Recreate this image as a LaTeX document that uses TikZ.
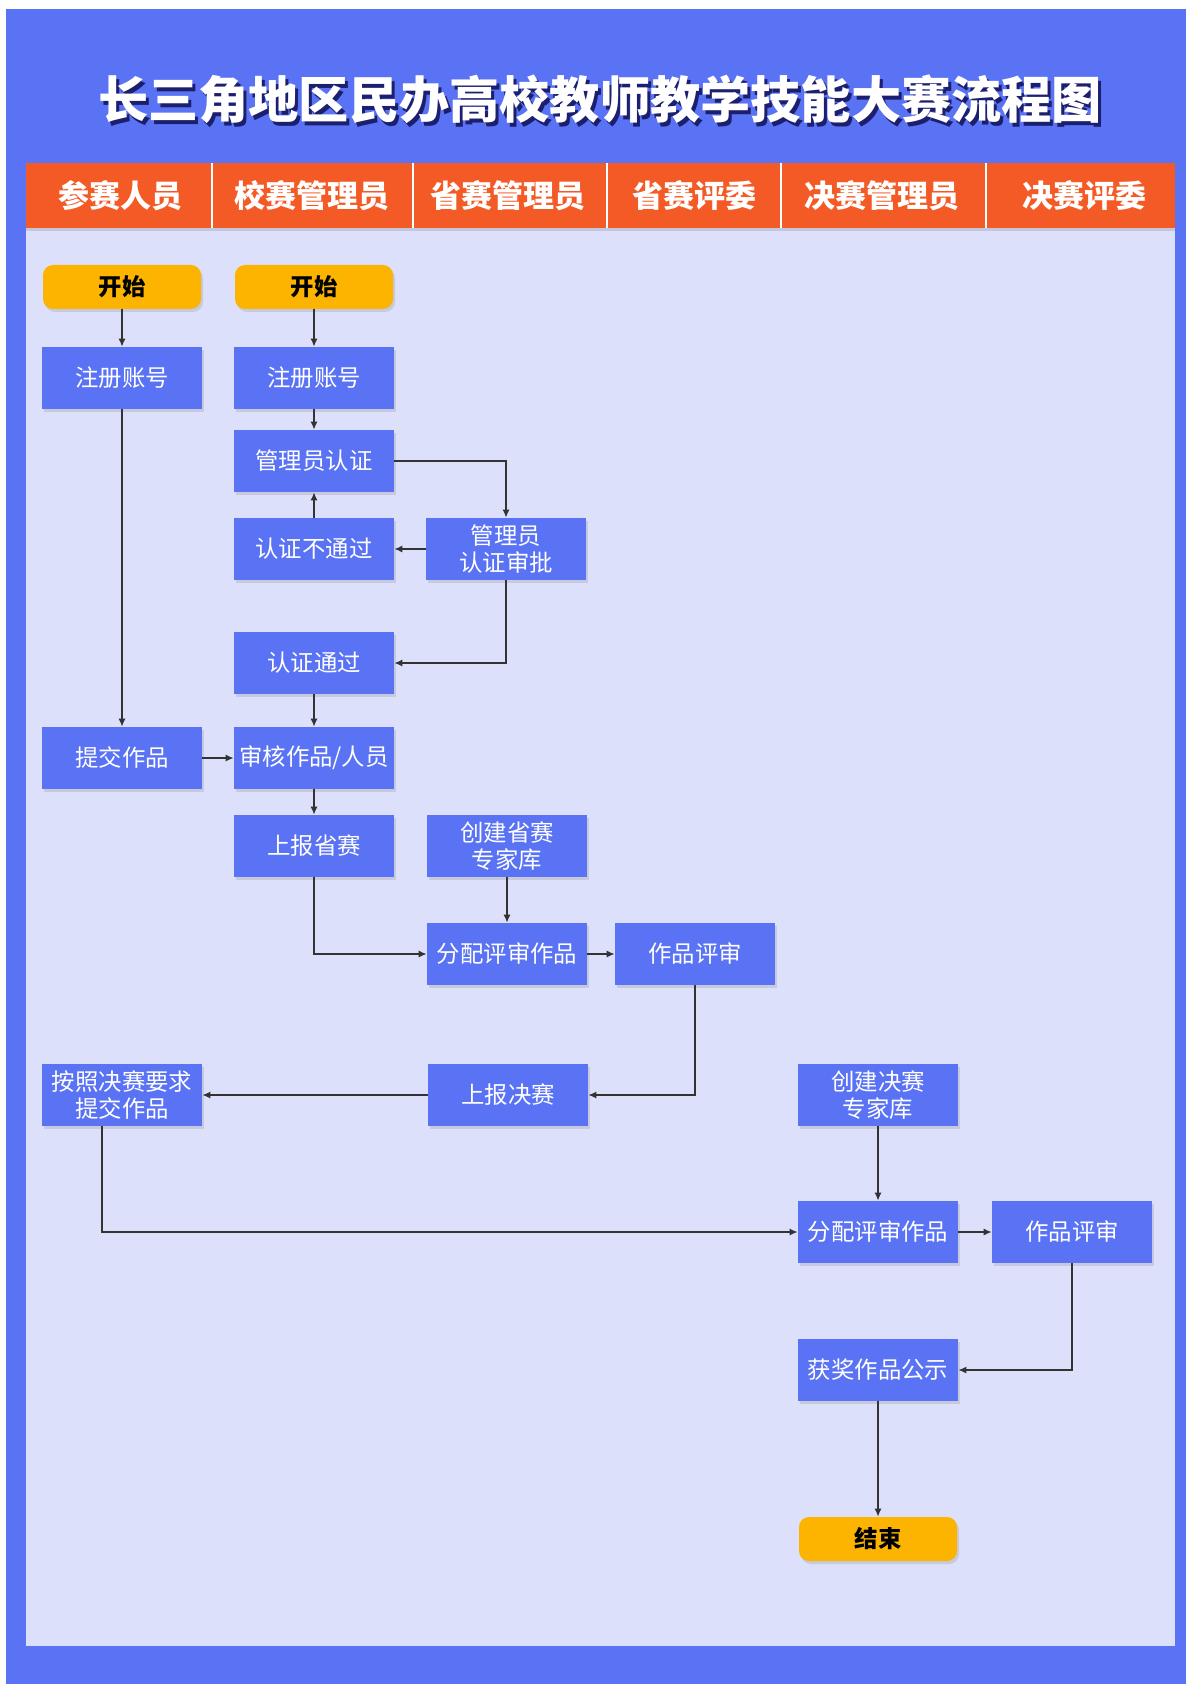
\documentclass[tikz,border=0pt]{standalone}
\usepackage{fontspec}
\newfontfamily\cjk{Noto Sans CJK SC}
\usetikzlibrary{shadows,calc,arrows.meta}
\definecolor{bgblue}{HTML}{5A73F4}
\definecolor{panel}{HTML}{DCE0FA}
\definecolor{hdr}{HTML}{F45A25}
\definecolor{nodeblue}{HTML}{5A73F4}
\definecolor{startc}{HTML}{FDB400}
\definecolor{shad}{HTML}{1C1E6E}
\definecolor{lc}{HTML}{333333}
\begin{document}
\begin{tikzpicture}[x=0.5pt,y=-0.5pt,
  box/.style={fill=nodeblue, minimum width=80pt, minimum height=31pt, inner sep=0pt,
    text=white, font=\cjk\fontsize{11.7}{13.5}\selectfont, align=center,
    drop shadow={shadow xshift=1pt, shadow yshift=-1.5pt, opacity=0.22}},
  term/.style={fill=startc, rounded corners=5pt, minimum width=79pt, minimum height=22pt,
    inner sep=0pt, text=black, font=\cjk\bfseries\fontsize{11.7}{13.5}\selectfont,
    drop shadow={shadow xshift=1pt, shadow yshift=-1.5pt, opacity=0.22}},
  arr/.style={draw=lc, line width=0.6pt, -{Latex[length=4pt,width=3.5pt]}},
  hd/.style={text=white, font=\cjk\bfseries\fontsize{15.5}{18}\selectfont},
  ttl/.style={font=\cjk\bfseries\fontsize{25.1}{30}\selectfont}
]
\useasboundingbox (0,0) rectangle (1186,1684);
\fill[white] (0,0) rectangle (1186,1684);
\fill[bgblue] (6,9) rectangle (1186,1684);
\fill[panel] (26,228) rectangle (1175,1646);
% title with offset shadow
\node[ttl, text=shad] (titleshadow) at (603,103) {长三角地区民办高校教师教学技能大赛流程图};
\node[ttl, text=white] (title) at (600,99) {长三角地区民办高校教师教学技能大赛流程图};
% header
\fill[hdr, drop shadow={shadow xshift=0pt, shadow yshift=-1.5pt, opacity=0.25}] (26,163) rectangle (1175,228);
\foreach \xx in {212,413,607,781,986} {\draw[white, line width=0.6pt] (\xx,163) -- (\xx,228);}
\node[hd] (h1) at (120,196) {参赛人员};
\node[hd] (h2) at (312,196) {校赛管理员};
\node[hd] (h3) at (508,196) {省赛管理员};
\node[hd] (h4) at (694,196) {省赛评委};
\node[hd] (h5) at (882,196) {决赛管理员};
\node[hd] (h6) at (1084,196) {决赛评委};
% nodes
\node[term] (s1) at (122,287) {开始};
\node[term] (s2) at (314,287) {开始};
\node[box] (r1) at (122,378) {注册账号};
\node[box] (r2) at (314,378) {注册账号};
\node[box] (auth) at (314,461) {管理员认证};
\node[box] (fail) at (314,549) {认证不通过};
\node[box] (appr) at (506,549) {管理员\\认证审批};
\node[box] (pass) at (314,663) {认证通过};
\node[box] (sub) at (122,758) {提交作品};
\node[box] (rev) at (314,758) {审核作品/人员};
\node[box] (sb) at (314,846) {上报省赛};
\node[box] (pe) at (507,846) {创建省赛\\专家库};
\node[box] (pa) at (507,954) {分配评审作品};
\node[box] (pr) at (695,954) {作品评审};
\node[box] (ajs) at (122,1095) {按照决赛要求\\提交作品};
\node[box] (fb) at (508,1095) {上报决赛};
\node[box] (fe) at (878,1095) {创建决赛\\专家库};
\node[box] (fa) at (878,1232) {分配评审作品};
\node[box] (fr) at (1072,1232) {作品评审};
\node[box] (aw) at (878,1370) {获奖作品公示};
\node[term] (en) at (878,1539) {结束};
% connectors
\draw[arr] (s1) -- (r1);
\draw[arr] (s2) -- (r2);
\draw[arr] (r1) -- (sub);
\draw[arr] (r2) -- (auth);
\draw[arr] (auth.east) -| (appr.north);
\draw[arr] (appr.west) -- (fail.east);
\draw[arr] (fail.north) -- (auth.south);
\draw[arr] (appr.south) |- (pass.east);
\draw[arr] (pass) -- (rev);
\draw[arr] (sub) -- (rev);
\draw[arr] (rev) -- (sb);
\draw[arr] (sb.south) |- (pa.west);
\draw[arr] (pe) -- (pa);
\draw[arr] (pa) -- (pr);
\draw[arr] (pr.south) |- (fb.east);
\draw[arr] (fb.west) -- (ajs.east);
\coordinate (ajsout) at ($(ajs.south)+(-20,0)$);
\draw[arr] (ajsout) |- (fa.west);
\draw[arr] (fe) -- (fa);
\draw[arr] (fa) -- (fr);
\draw[arr] (fr.south) |- (aw.east);
\draw[arr] (aw) -- (en);
\end{tikzpicture}
\end{document}
